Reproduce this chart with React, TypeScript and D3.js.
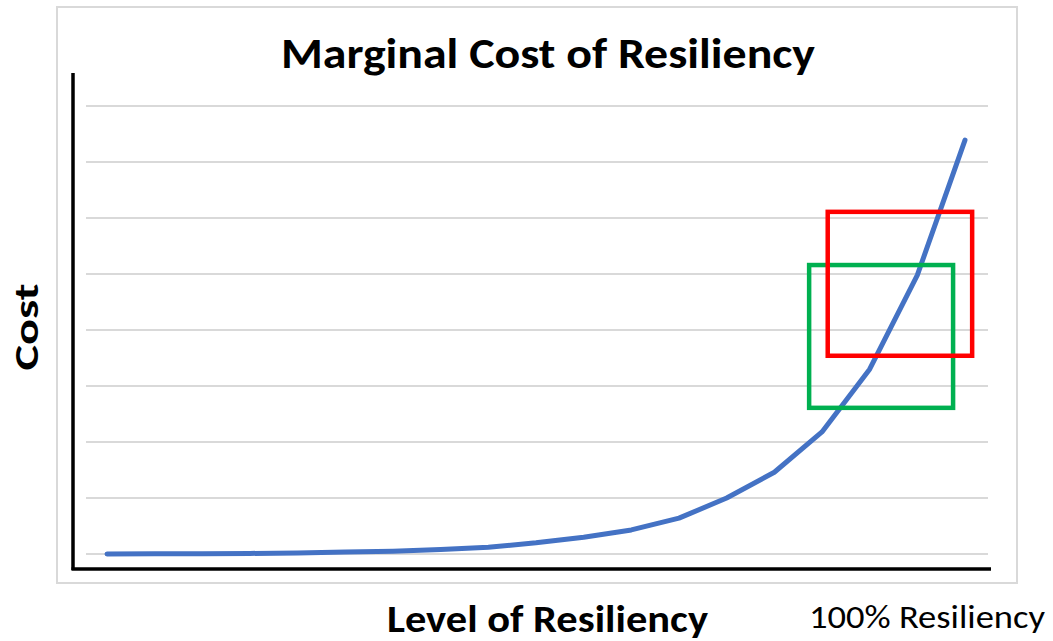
import { useMemo } from "react";
import * as d3 from "d3";

// resiliency steps (x) and the marginal cost at each step (y, in gridline units)
const steps = [0, 1, 2, 3, 4, 5, 6, 7, 8, 9, 10, 11, 12, 13, 14, 15, 16, 17, 18];
const cost = [0, 0.003, 0.006, 0.01, 0.02, 0.035, 0.05, 0.08, 0.12, 0.2, 0.3, 0.43, 0.64, 1.0, 1.46, 2.18, 3.3, 4.98, 7.39];
const gridTicks = [0, 1, 2, 3, 4, 5, 6, 7, 8];

// highlight boxes, in data units
const boxNames = ["green", "red"];
const boxX0 = [14.73, 15.12];
const boxX1 = [17.75, 18.15];
const boxY0 = [2.61, 3.54];
const boxY1 = [5.16, 6.11];
const boxColors = ["#00b050", "#ff0000"];

const W = 1053;
const H = 641;
const FONT = "Carlito, Calibri, Lato, 'Open Sans', sans-serif";

export default function App() {
  const x = useMemo(() => d3.scaleLinear().domain([0, 18]).range([107, 965]), []);
  const y = useMemo(() => d3.scaleLinear().domain([0, 8]).range([554, 106]), []);

  const line = d3
    .line<number>()
    .x((_, i) => x(steps[i]))
    .y((d) => y(d))
    .curve(d3.curveLinear);

  return (
    <svg
      width={W}
      height={H}
      style={{ position: "absolute", left: 0, top: 0, background: "#fff" }}
    >
      {/* chart frame */}
      <rect x={57} y={7} width={960} height={576} fill="#fff" stroke="#d9d9d9" strokeWidth={2} />

      <text
        x={548}
        y={68}
        textAnchor="middle"
        fontFamily={FONT}
        fontWeight="bold"
        fontSize={42}
        textLength={534}
        lengthAdjust="spacingAndGlyphs"
      >
        Marginal Cost of Resiliency
      </text>

      {/* gridlines */}
      {gridTicks.map((t) => (
        <line key={t} x1={86} x2={988} y1={y(t)} y2={y(t)} stroke="#d9d9d9" strokeWidth={2} />
      ))}

      {/* axes */}
      <line x1={73} x2={73} y1={73} y2={570} stroke="#000" strokeWidth={3.5} />
      <line x1={71.5} x2={991} y1={569} y2={569} stroke="#000" strokeWidth={3.5} />

      {/* cost curve */}
      <path
        d={line(cost) || ""}
        fill="none"
        stroke="#4472c4"
        strokeWidth={5}
        strokeLinecap="round"
        strokeLinejoin="round"
      />

      {/* highlight boxes */}
      {boxNames.map((n, i) => (
        <rect
          key={n}
          x={x(boxX0[i])}
          y={y(boxY1[i])}
          width={x(boxX1[i]) - x(boxX0[i])}
          height={y(boxY0[i]) - y(boxY1[i])}
          fill="none"
          stroke={boxColors[i]}
          strokeWidth={4.5}
        />
      ))}

      {/* axis titles */}
      <text
        transform="translate(38,327) rotate(-90)"
        textAnchor="middle"
        fontFamily={FONT}
        fontWeight="bold"
        fontSize={35}
        textLength={87}
        lengthAdjust="spacingAndGlyphs"
      >
        Cost
      </text>
      <text
        x={547.5}
        y={632}
        textAnchor="middle"
        fontFamily={FONT}
        fontWeight="bold"
        fontSize={37.5}
        textLength={321}
        lengthAdjust="spacingAndGlyphs"
      >
        Level of Resiliency
      </text>
      <text
        x={927}
        y={628}
        textAnchor="middle"
        fontFamily={FONT}
        fontSize={32}
        textLength={236}
        lengthAdjust="spacingAndGlyphs"
      >
        100% Resiliency
      </text>
    </svg>
  );
}
